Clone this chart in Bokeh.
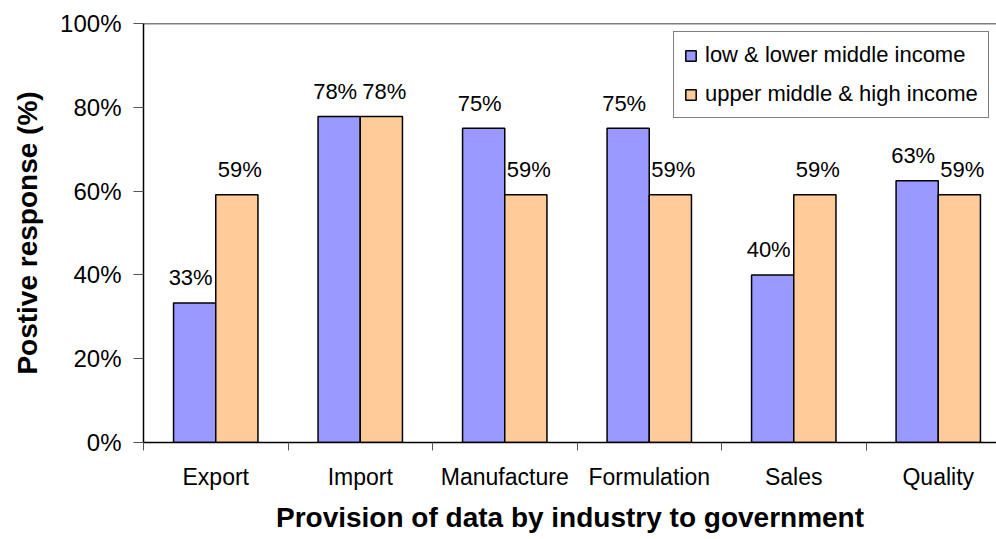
from bokeh.plotting import figure
from bokeh.models import (ColumnDataSource, FixedTicker, Range1d, Span, Legend,
                          LegendItem, Title, PrintfTickFormatter)
from bokeh.core.properties import value
from bokeh.embed import file_html
from bokeh.resources import INLINE

# ---- data ----
categories = ["Export", "Import", "Manufacture", "Formulation", "Sales", "Quality"]
low_income = [33.3, 77.8, 75.0, 75.0, 40.0, 62.5]
high_income = [59.1, 77.8, 59.1, 59.1, 59.1, 59.1]
low_labels = ["33%", "78%", "75%", "75%", "40%", "63%"]
high_labels = ["59%", "78%", "59%", "59%", "59%", "59%"]
series_names = ["low & lower middle income", "upper middle & high income"]
y_ticks = [0, 20, 40, 60, 80, 100]

FONT = "Liberation Sans"
BAR_W = 0.292

centers = [i + 0.5 for i in range(len(categories))]
src_low = ColumnDataSource(dict(x=[c - BAR_W / 2 for c in centers], top=low_income, lab=low_labels))
src_high = ColumnDataSource(dict(x=[c + BAR_W / 2 for c in centers], top=high_income, lab=high_labels))

p = figure(width=996, height=539, output_backend="svg", toolbar_location=None,
           x_range=Range1d(0, 5.903), y_range=Range1d(0, 100),
           min_border_left=143, min_border_right=0, min_border_top=23, min_border_bottom=0)
p.outline_line_color = None
p.xgrid.grid_line_color = None
p.ygrid.grid_line_color = None
p.background_fill_color = "white"
p.border_fill_color = "white"

r_low = p.vbar(x="x", top="top", width=BAR_W, source=src_low, fill_color="#9999FF",
               line_color="black", line_width=1.5)
r_high = p.vbar(x="x", top="top", width=BAR_W, source=src_high, fill_color="#FFCC99",
                line_color="black", line_width=1.5)

for src, dx in ((src_low, -4), (src_high, 3)):
    p.text(x="x", y="top", text="lab", source=src, text_align="center",
           text_baseline="alphabetic", x_offset=dx, y_offset=-25, text_font_size="22px",
           text_font=value(FONT), text_color="black")

# top border
p.add_layout(Span(location=100, dimension="width", line_color="black", line_width=1.5))

# y axis
yax = p.yaxis[0]
yax.ticker = FixedTicker(ticks=y_ticks)
yax.formatter = PrintfTickFormatter(format="%d%%")
yax.major_tick_out = 10
yax.major_tick_in = 0
yax.minor_tick_out = 0
yax.minor_tick_in = 0
yax.major_label_standoff = 12
yax.major_label_text_font = FONT
yax.major_label_text_font_size = "24px"
yax.major_label_text_color = "black"
yax.axis_line_color = "black"
yax.axis_line_width = 1.5
yax.major_tick_line_color = "#555555"
yax.axis_label = "Postive response (%)"
yax.axis_label_text_font = FONT
yax.axis_label_text_font_size = "28px"
yax.axis_label_text_font_style = "bold"
yax.axis_label_text_color = "black"
yax.axis_label_standoff = 14

# x axis
xax = p.xaxis[0]
xax.ticker = FixedTicker(ticks=centers, minor_ticks=list(range(len(categories) + 1)))
xax.major_label_overrides = {c: name for c, name in zip(centers, categories)}
xax.major_tick_out = 0
xax.major_tick_in = 0
xax.minor_tick_out = 8
xax.minor_tick_in = 0
xax.minor_tick_line_color = "#555555"
xax.major_label_standoff = 13
xax.major_label_text_font = FONT
xax.major_label_text_font_size = "23px"
xax.major_label_text_color = "black"
xax.axis_line_color = "black"
xax.axis_line_width = 1.5

p.add_layout(Title(text="Provision of data by industry to government", align="center",
                   offset=11, text_font=FONT, text_font_size="28px",
                   text_font_style="bold", text_color="black", standoff=14), "below")

legend = Legend(items=[LegendItem(label=series_names[0], renderers=[r_low]),
                       LegendItem(label=series_names[1], renderers=[r_high])],
                location=(530, 324), orientation="vertical",
                label_text_font=FONT, label_text_font_size="22px", label_text_color="black",
                glyph_width=13, glyph_height=13, label_standoff=8, label_height=24,
                spacing=13, padding=10, border_line_color="black", border_line_width=1,
                background_fill_color="white", background_fill_alpha=1.0)
p.add_layout(legend)

open("out.html", "w").write(file_html(p, INLINE))
